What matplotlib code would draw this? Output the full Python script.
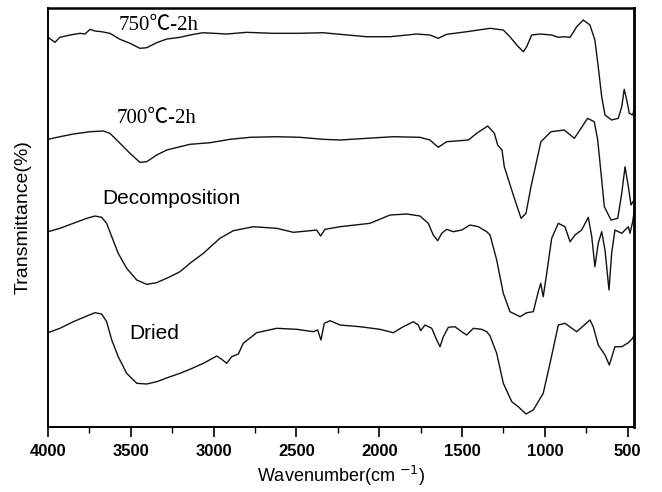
import numpy as np
import matplotlib
matplotlib.use("Agg")
import matplotlib.pyplot as plt
from matplotlib.ticker import MultipleLocator

# FTIR spectra, wavenumber (cm-1) vs transmittance (arbitrary, offset units)
w_750 = [4000, 3958, 3928, 3867, 3807, 3777, 3746, 3716, 3676, 3626, 3565, 3505, 3445, 3404,
         3344, 3283, 3203, 3143, 3064, 2921, 2800, 2642, 2479, 2340, 2237, 2076, 1935, 1774,
         1694, 1644, 1593, 1472, 1331, 1251, 1211, 1170, 1130, 1110, 1080, 1030, 959, 919,
         889, 848, 808, 768, 728, 698, 678, 657, 637, 597, 557, 536, 521, 506, 490, 470, 462]
t_750 = [389.7, 384.7, 389.7, 392, 393.7, 393, 397.7, 396, 395.3, 393.7, 387.7, 383.7, 378.7, 379.3,
         384.3, 388, 389.7, 392, 394.3, 393, 394.7, 393.7, 393.7, 394.3, 392.7, 390.3, 390.3, 393,
         392, 388.7, 392.7, 395.3, 398.7, 397, 390.3, 382, 375.3, 380.3, 392, 393, 392, 389.7,
         390.3, 389.7, 400.3, 407, 402, 387, 360.3, 330.3, 312, 307, 308.7, 320.3, 337.7, 327, 313.7, 312, 317]

w_700 = [4000, 3928, 3847, 3746, 3666, 3626, 3565, 3505, 3445, 3404, 3344, 3283, 3203, 3143,
         3022, 2901, 2780, 2619, 2479, 2338, 2237, 2076, 1915, 1754, 1694, 1644, 1593, 1462,
         1412, 1345, 1305, 1285, 1259, 1245, 1194, 1144, 1114, 1084, 1024, 963, 883, 822, 782,
         742, 702, 681, 661, 641, 601, 560, 536, 516, 496, 480, 462]
t_700 = [287.7, 290.3, 293, 295.3, 296, 293.7, 283.7, 273.7, 264.7, 265.3, 272, 277, 280.3, 282.7,
         284.3, 287.7, 289.7, 290.3, 289.7, 287.7, 287, 288.7, 290.3, 289.7, 287, 279.7, 285.3, 287,
         293.7, 301, 293.7, 282, 277, 260.3, 233.7, 208.7, 213.7, 240.3, 285.3, 295.3, 297, 288.7, 298.7,
         308.7, 305.3, 287, 253.7, 220.3, 207, 208.7, 233.7, 260.3, 240.3, 222, 227]

w_dec = [4000, 3928, 3847, 3766, 3716, 3676, 3646, 3615, 3576, 3525, 3464, 3404, 3344, 3263,
         3203, 3143, 3062, 2962, 2881, 2760, 2619, 2519, 2418, 2378, 2354, 2328, 2237, 2056,
         1935, 1834, 1754, 1704, 1674, 1647, 1623, 1593, 1553, 1502, 1452, 1402, 1351, 1331,
         1291, 1251, 1211, 1150, 1110, 1070, 1040, 1025, 1010, 989, 959, 919, 879, 848, 818,
         778, 738, 717, 698, 678, 657, 637, 613, 597, 577, 536, 496, 486, 470, 462]
t_dec = [195.3, 198.7, 203.7, 208.7, 211, 209.7, 203.7, 190.3, 173.7, 158.7, 147, 142.7, 144.3, 150.3,
         155.3, 163.7, 173.7, 188.7, 196.3, 200.3, 198.7, 194.7, 196.3, 197, 191, 197.7, 200.3, 203.7,
         212, 213, 211, 203.7, 192, 186.3, 193.7, 197.7, 195.3, 197, 202, 200.3, 195.3, 192,
         167, 133.7, 115.3, 110.3, 114.3, 115.3, 135.3, 143.7, 130.3, 153.7, 188.7, 203.7, 200.3, 185.3, 192,
         197, 209.7, 190.3, 160.3, 183.7, 195.3, 177, 137, 173.7, 197, 193.7, 200.3, 193.7, 205.3, 214]

w_dry = [4000, 3928, 3847, 3766, 3716, 3676, 3646, 3615, 3576, 3525, 3464, 3404, 3344, 3263,
         3203, 3143, 3062, 2981, 2951, 2921, 2891, 2851, 2821, 2740, 2619, 2498, 2398, 2372,
         2352, 2332, 2297, 2237, 2116, 1996, 1915, 1855, 1794, 1764, 1750, 1724, 1683, 1653,
         1633, 1613, 1583, 1543, 1502, 1472, 1432, 1382, 1351, 1331, 1291, 1251, 1200, 1161,
         1114, 1070, 1010, 969, 919, 879, 808, 728, 708, 678, 637, 611, 577, 536, 496, 470, 462]
t_dry = [94.3, 98.7, 105.3, 111, 114.3, 113, 105.3, 87, 70.3, 53.7, 43.7, 43, 45.3, 50.3,
         53.7, 57.7, 63.7, 71, 67.7, 63.7, 70.3, 73, 83.7, 94.3, 98.7, 97.7, 95.3, 97,
         87, 103.7, 106.3, 102, 100.3, 97.7, 94.3, 100.3, 105.3, 102, 96.3, 102, 98.7, 87,
         80.3, 90.3, 99.7, 100.3, 95.3, 92, 98.7, 97.7, 95.3, 91, 73.7, 43.7, 25.3, 20.3,
         13, 17, 33.7, 63.7, 102, 103.7, 95.3, 107, 100.3, 82, 72, 62, 80.3, 80.3, 84.3, 88.7, 92]

labels = ["750\u2103-2h", "700\u2103-2h", "Decomposition", "Dried"]

fig = plt.figure(figsize=(6.62, 4.92), dpi=100)
ax = fig.add_axes([0.0725, 0.1321, 0.8852, 0.8516])

for w, t in [(w_750, t_750), (w_700, t_700), (w_dec, t_dec), (w_dry, t_dry)]:
    ax.plot(w, t, color="#111111", lw=1.0)

ax.set_xlim(4000, 462)
ax.set_ylim(0, 419)
ax.xaxis.set_major_locator(MultipleLocator(500))
ax.xaxis.set_minor_locator(MultipleLocator(250))
ax.set_yticks([])
ax.tick_params(axis="x", which="major", direction="out", length=7, width=1.2, pad=5)
ax.tick_params(axis="x", which="minor", direction="out", length=4, width=1.0)
for lab in ax.get_xticklabels():
    lab.set_fontsize(12)
    lab.set_fontweight("bold")
    lab.set_family("Liberation Sans")
for s in ax.spines.values():
    s.set_linewidth(1.4)
ax.spines["right"].set_linewidth(2.0)
ax.spines["top"].set_linewidth(1.8)

ax.set_xlabel("Wavenumber(cm $^{-1}$)", fontsize=13, family="Liberation Sans", labelpad=4)
ax.set_ylabel("Transmittance(%)", fontsize=14, family="Liberation Sans", labelpad=12)

# the degree-Celsius sign comes from the CJK font (full width, as in the scan)
serif = ["Liberation Serif", "Noto Sans CJK SC"]
ax.text(3330, 402, labels[0], fontsize=15, family=serif, ha="center", va="center")
ax.text(3345, 309, labels[1], fontsize=15, family=serif, ha="center", va="center")
ax.text(3257, 229, labels[2], fontsize=15, family="Liberation Sans", ha="center", va="center")
ax.text(3360, 94, labels[3], fontsize=15, family="Liberation Sans", ha="center", va="center")

fig.savefig("out.png", dpi=100)
